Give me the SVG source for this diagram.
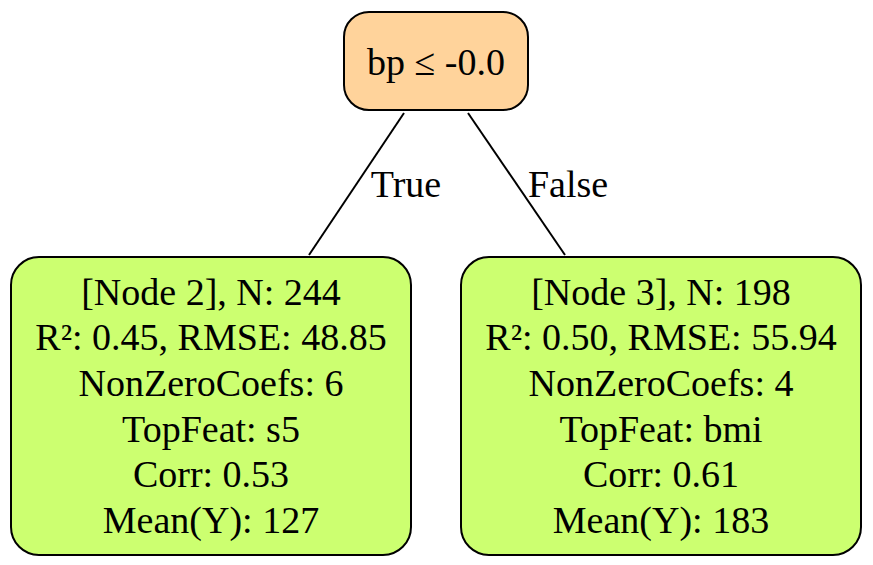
<svg xmlns="http://www.w3.org/2000/svg" width="873" height="565" viewBox="0 0 873 565">
<style>
text{font-family:"Liberation Serif","Times New Roman",serif;font-size:38px;fill:#000;text-anchor:middle}
.n rect{stroke:#000;stroke-width:2}
.root rect{fill:#ffd39b}
.leaf rect{fill:#ccff70}
#edges path{stroke:#000;stroke-width:2;fill:none}
</style>
<rect width="873" height="565" fill="#fff"/>
<g id="edges">
<path d="M404,113 L309,255"/>
<path d="M468,113 L565,255"/>
<text x="406" y="197">True</text>
<text x="568" y="197">False</text>
</g>
<g id="node1" class="n root">
<rect x="344" y="12" width="184" height="98" rx="25"/>
<text x="436" y="75">bp ≤ -0.0</text>
</g>
<g id="node2" class="n leaf">
<rect x="11" y="257" width="400" height="298" rx="28"/>
<text x="211" y="305">[Node 2], N: 244</text>
<text x="211" y="350">R²: 0.45, RMSE: 48.85</text>
<text x="211" y="396">NonZeroCoefs: 6</text>
<text x="211" y="442">TopFeat: s5</text>
<text x="211" y="487">Corr: 0.53</text>
<text x="211" y="533">Mean(Y): 127</text>
</g>
<g id="node3" class="n leaf">
<rect x="461" y="257" width="400" height="298" rx="28"/>
<text x="661" y="305">[Node 3], N: 198</text>
<text x="661" y="350">R²: 0.50, RMSE: 55.94</text>
<text x="661" y="396">NonZeroCoefs: 4</text>
<text x="661" y="442">TopFeat: bmi</text>
<text x="661" y="487">Corr: 0.61</text>
<text x="661" y="533">Mean(Y): 183</text>
</g>
</svg>
